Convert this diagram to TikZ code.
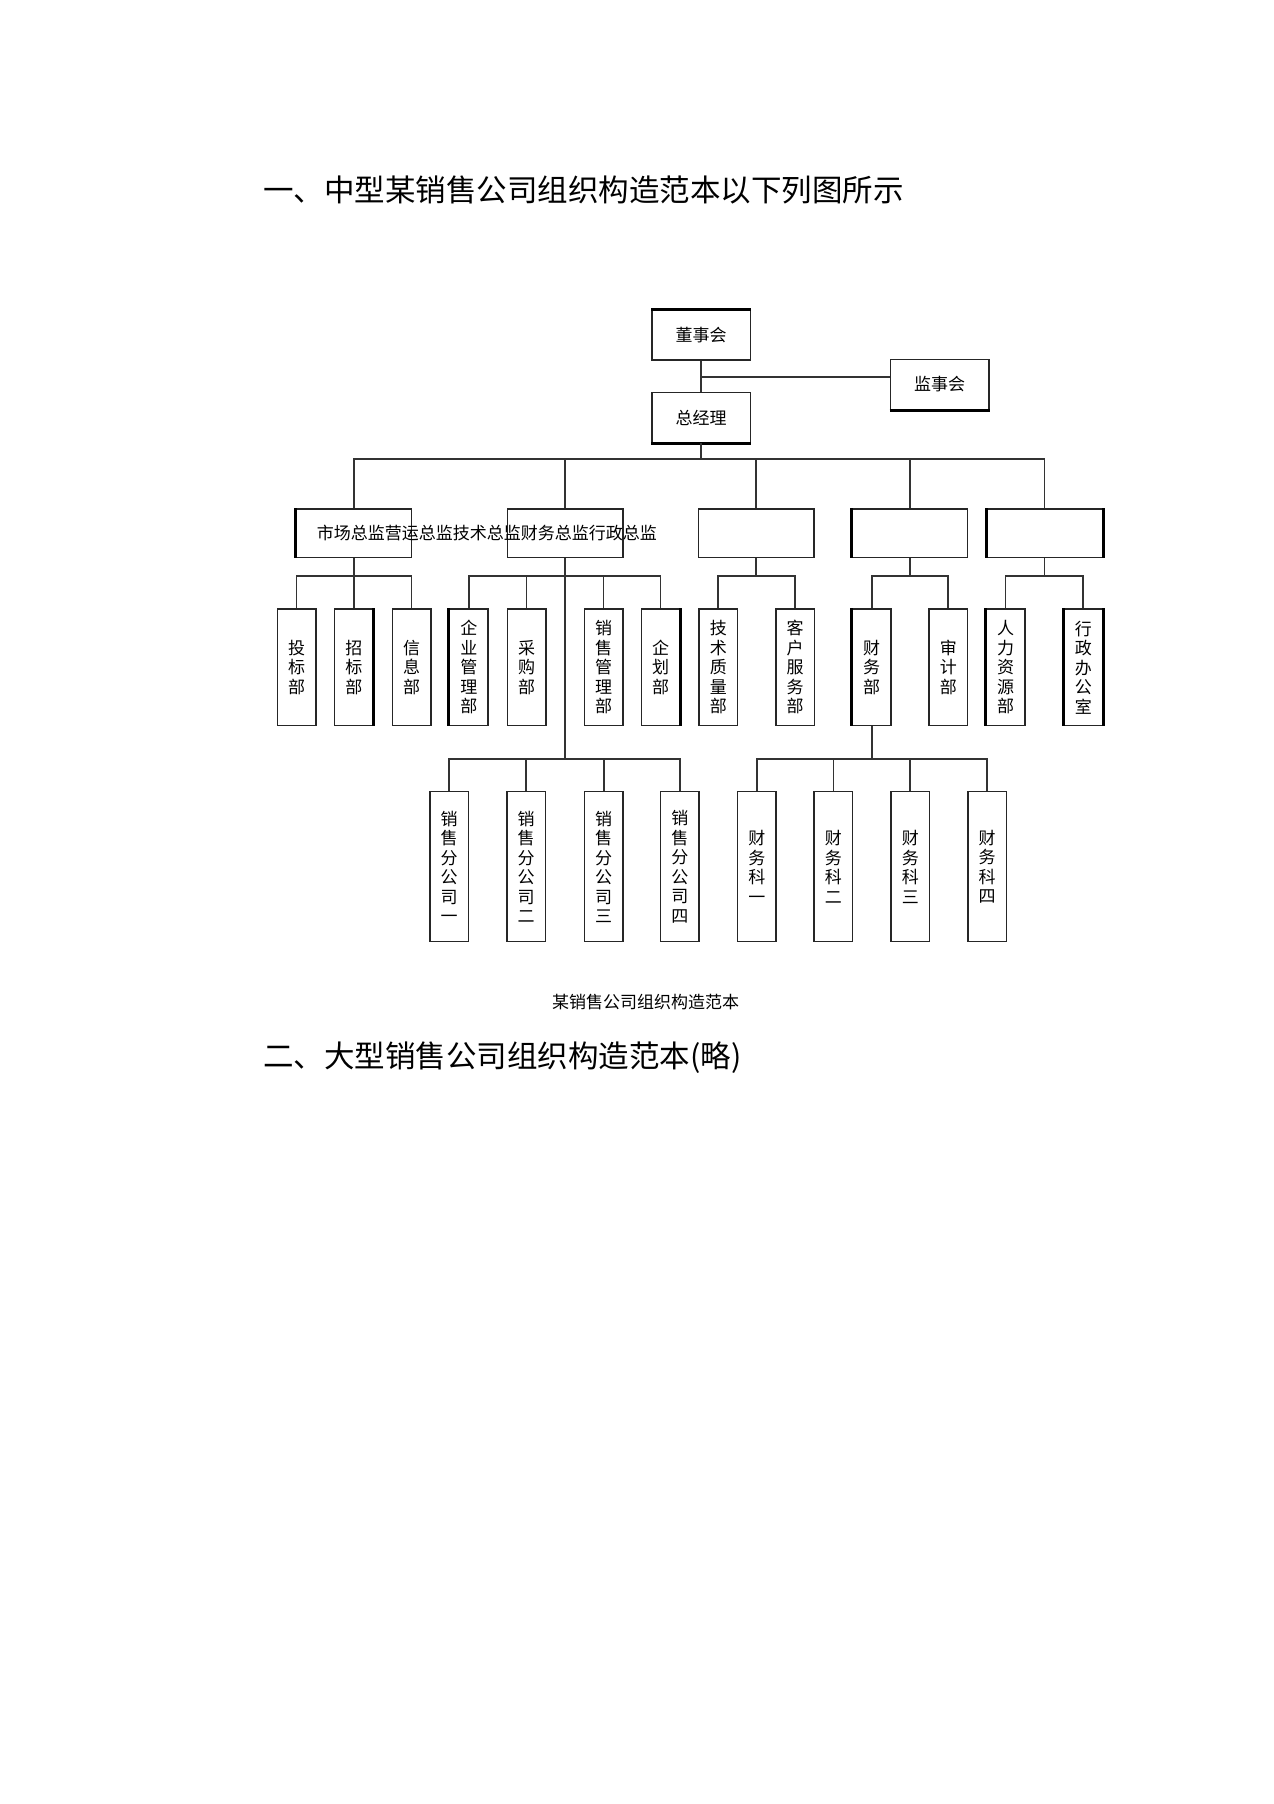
\documentclass[tikz,border=0pt]{standalone}
\usepackage{fontspec}
\newfontfamily\cjk{Noto Sans CJK SC}
\begin{document}
\begin{tikzpicture}[x=1pt,y=-1pt,
  box/.style={draw=black!85,line width=1.5pt,inner sep=0pt,fill=white,
    font=\cjk\fontsize{17}{19.5}\selectfont,align=center},
  topbox/.style={box,minimum width=98.5pt,minimum height=50pt},
  midbox/.style={box,minimum width=115.5pt,minimum height=48.7pt},
  deptbox/.style={box,minimum width=38.5pt,minimum height=116.7pt},
  subbox/.style={box,minimum width=38.5pt,minimum height=150pt},
  conn/.style={draw=black!80,line width=1.8pt},
  thick side/.style={draw=black,line width=3pt},
  heading/.style={anchor=west,inner sep=0pt,font=\cjk\fontsize{30.5}{36}\selectfont},
  plain/.style={inner sep=0pt,font=\cjk\fontsize{17}{20}\selectfont}
]
\fill[white] (0,0) rectangle (1274,1804);
\useasboundingbox (0,0) rectangle (1274,1804);

% headings
\node[heading] (t1) at (263,190) {一、中型某销售公司组织构造范本以下列图所示};
\node[plain] (cap) at (645.5,1002) {某销售公司组织构造范本};
\node[heading] (t2) at (263,1058) {二、大型销售公司组织构造范本(略)};

% coordinates of buses
\coordinate (jc) at (701,377.3);
\coordinate (bus2) at (0,459.3);
\coordinate (bus3) at (0,575.7);
\coordinate (bus4) at (0,759);

% top
\node[topbox] (dsh) at (701,335) {董事会};
\node[topbox] (zjl) at (701,417.7) {总经理};
\node[topbox] (jsh) at (939.5,384.5) {监事会};

% level 2
\node[midbox] (b1) at (353.8,533.3) {};
\node[midbox] (b2) at (565.1,533.3) {};
\node[midbox] (b3) at (756,533.3) {};
\node[midbox] (b4) at (909.9,533.3) {};
\node[midbox] (b5) at (1044.5,533.3) {};
\node[plain,anchor=west] (dirs) at (316.7,533) {市场总监营运总监技术总监财务总监行政总监};

% level 3
\node[deptbox] (c1) at (296.5,667.3) {投\\标\\部};
\node[deptbox] (c2) at (353.8,667.3) {招\\标\\部};
\node[deptbox] (c3) at (411.5,667.3) {信\\息\\部};
\node[deptbox] (c4) at (468.8,667.3) {企\\业\\管\\理\\部};
\node[deptbox] (c5) at (526.5,667.3) {采\\购\\部};
\node[deptbox] (c6) at (603.5,667.3) {销\\售\\管\\理\\部};
\node[deptbox] (c7) at (660.5,667.3) {企\\划\\部};
\node[deptbox] (c8) at (718.3,667.3) {技\\术\\质\\量\\部};
\node[deptbox] (c9) at (795,667.3) {客\\户\\服\\务\\部};
\node[deptbox] (c10) at (871.7,667.3) {财\\务\\部};
\node[deptbox] (c11) at (948.3,667.3) {审\\计\\部};
\node[deptbox] (c12) at (1005.5,667.3) {人\\力\\资\\源\\部};
\node[deptbox] (c13) at (1083.3,667.3) {行\\政\\办\\公\\室};

% level 4
\node[subbox] (d1) at (449.1,866.7) {销\\售\\分\\公\\司\\一};
\node[subbox] (d2) at (526.2,866.7) {销\\售\\分\\公\\司\\二};
\node[subbox] (d3) at (603.7,866.7) {销\\售\\分\\公\\司\\三};
\node[subbox] (d4) at (679.9,866.7) {销\\售\\分\\公\\司\\四};
\node[subbox] (d5) at (756.8,866.7) {财\\务\\科\\一};
\node[subbox] (d6) at (833.4,866.7) {财\\务\\科\\二};
\node[subbox] (d7) at (910.3,866.7) {财\\务\\科\\三};
\node[subbox] (d8) at (987.2,866.7) {财\\务\\科\\四};

% heavier box sides seen in the reference
\draw[thick side] (dsh.north west) -- (dsh.north east);
\draw[thick side] (zjl.south west) -- (zjl.south east);
\draw[thick side] (jsh.south west) -- (jsh.south east);
\draw[thick side] (b1.north west) -- (b1.south west);
\draw[thick side] (b4.north west) -- (b4.south west);
\draw[thick side] (b5.north west) -- (b5.south west);
\draw[thick side] (b5.north east) -- (b5.south east);
\draw[thick side] (c2.north east) -- (c2.south east);
\draw[thick side] (c4.north west) -- (c4.south west);
\draw[thick side] (c7.north east) -- (c7.south east);
\draw[thick side] (c10.north west) -- (c10.south west);
\draw[thick side] (c12.north west) -- (c12.south west);
\draw[thick side] (c13.north west) -- (c13.south west);
\draw[thick side] (c13.north east) -- (c13.south east);

% connectors top
\draw[conn] (dsh.south) -- (zjl.north);
\draw[conn] (jc) -- (jc -| jsh.west);
\draw[conn] (zjl.south) -- (zjl.south |- bus2);
\draw[conn] (b1.north) -- (b1.north |- bus2) -- (b5.north |- bus2) -- (b5.north);
\foreach \n in {b2,b3,b4} \draw[conn] (\n.north) -- (\n.north |- bus2);

% level 3 connectors
\foreach \b in {b1,b3,b4,b5} \draw[conn] (\b.south) -- (\b.south |- bus3);
\draw[conn] (b2.south) -- (b2.south |- bus4);
\draw[conn] (c1.north) -- (c1.north |- bus3) -- (c3.north |- bus3) -- (c3.north);
\draw[conn] (c2.north) -- (c2.north |- bus3);
\draw[conn] (c4.north) -- (c4.north |- bus3) -- (c7.north |- bus3) -- (c7.north);
\foreach \n in {c5,c6} \draw[conn] (\n.north) -- (\n.north |- bus3);
\draw[conn] (c8.north) -- (c8.north |- bus3) -- (c9.north |- bus3) -- (c9.north);
\draw[conn] (c10.north) -- (c10.north |- bus3) -- (c11.north |- bus3) -- (c11.north);
\draw[conn] (c12.north) -- (c12.north |- bus3) -- (c13.north |- bus3) -- (c13.north);
\draw[conn] (c10.south) -- (c10.south |- bus4);

% level 4 connectors
\draw[conn] (d1.north) -- (d1.north |- bus4) -- (d4.north |- bus4) -- (d4.north);
\foreach \n in {d2,d3} \draw[conn] (\n.north) -- (\n.north |- bus4);
\draw[conn] (d5.north) -- (d5.north |- bus4) -- (d8.north |- bus4) -- (d8.north);
\foreach \n in {d6,d7} \draw[conn] (\n.north) -- (\n.north |- bus4);
\end{tikzpicture}
\end{document}
